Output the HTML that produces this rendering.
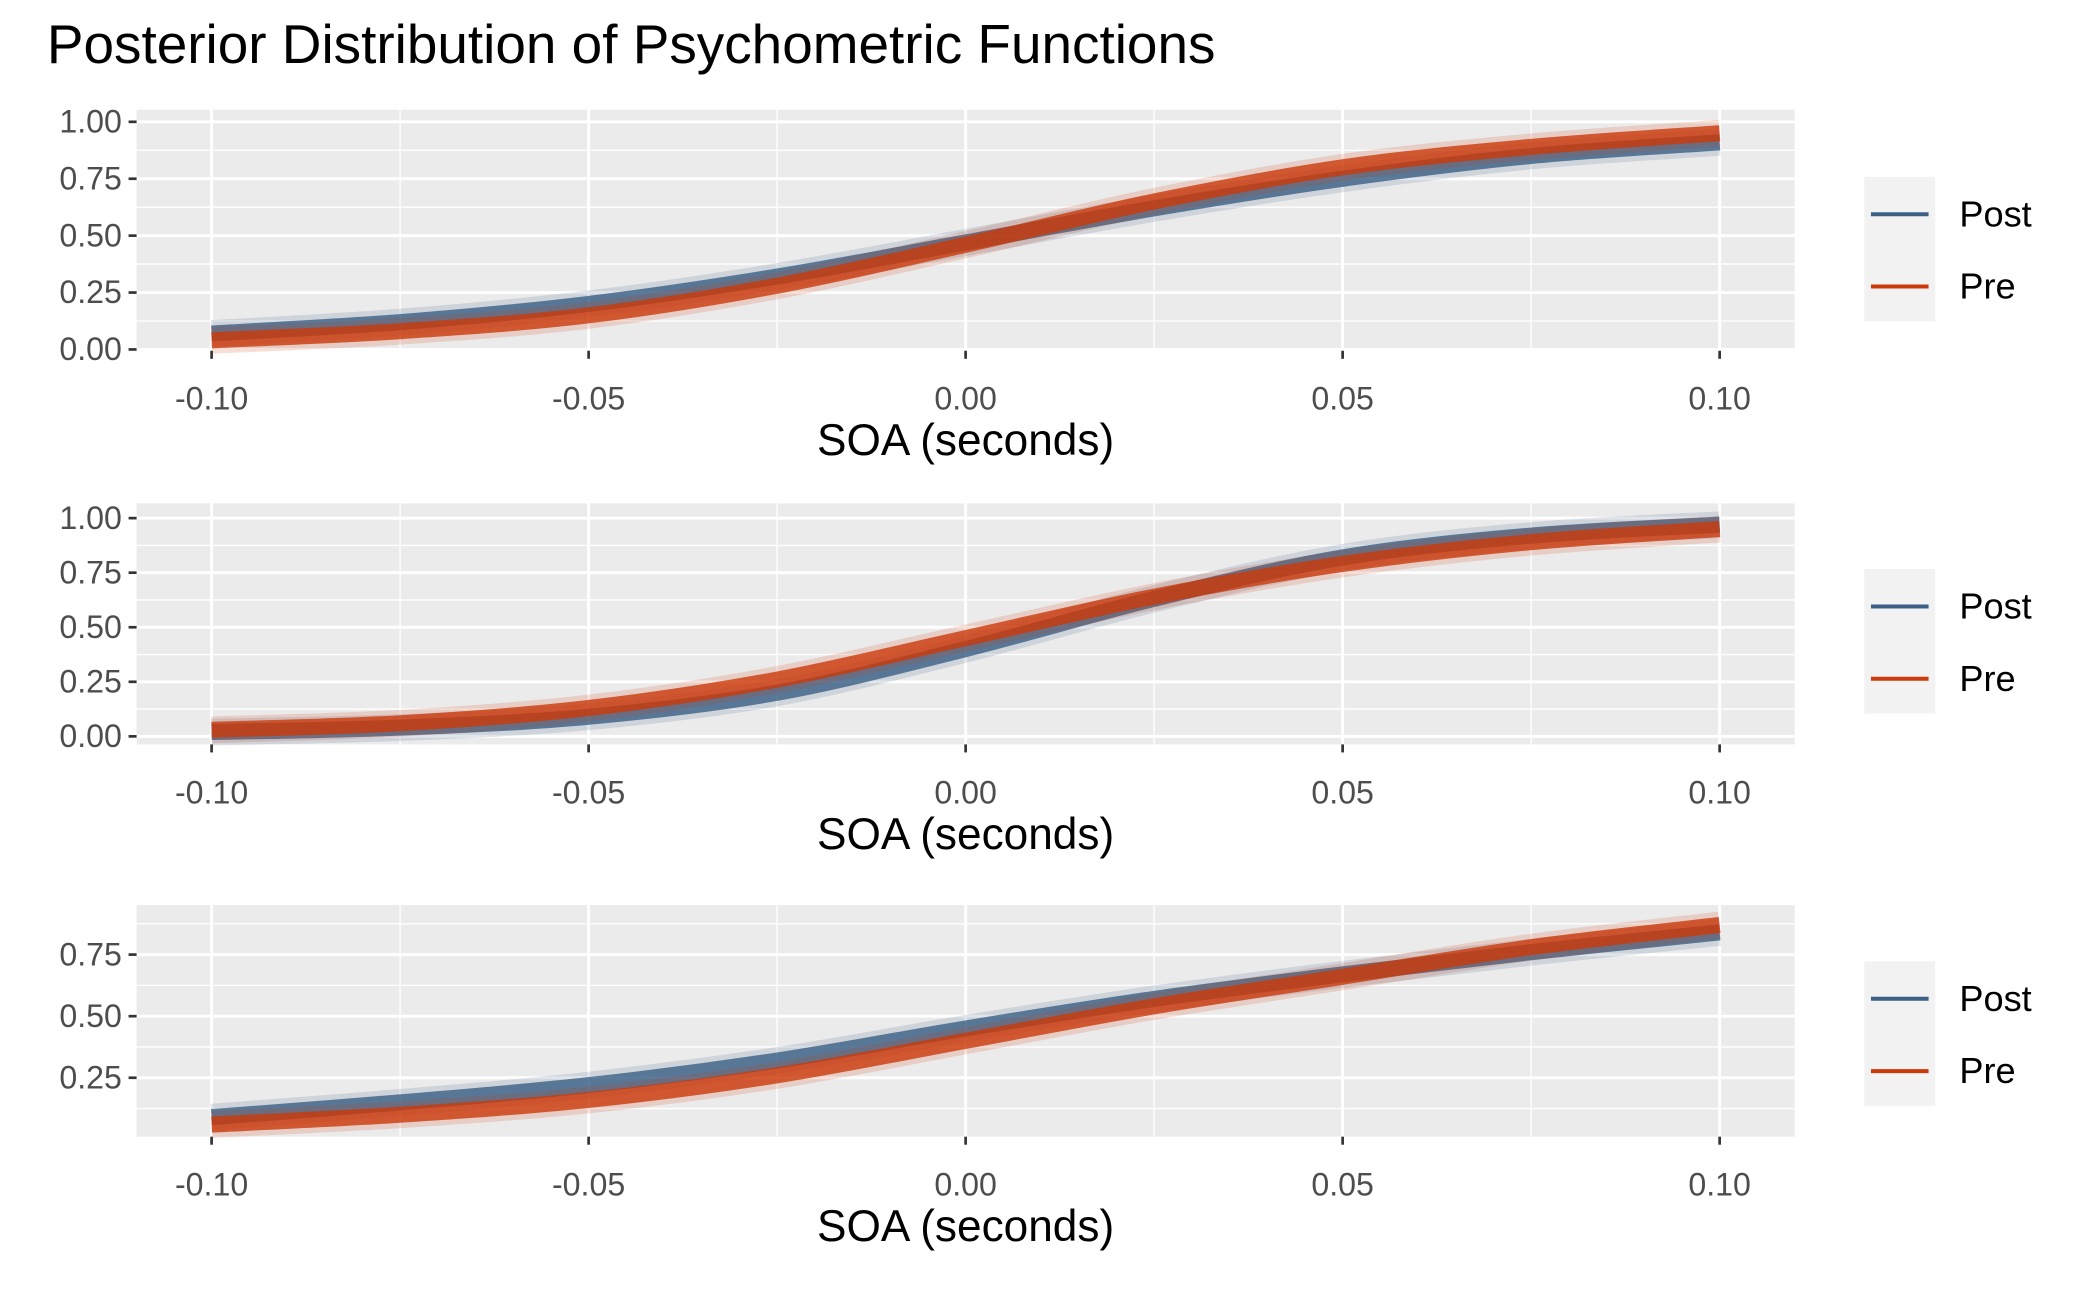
<!DOCTYPE html>
<html><head><meta charset="utf-8"><style>
html,body{margin:0;padding:0;background:#fff;}
svg{display:block;font-family:"Liberation Sans",Arial,sans-serif;}
</style></head><body>
<svg id="chart" width="2100" height="1296" viewBox="0 0 1568 968" preserveAspectRatio="none" xmlns="http://www.w3.org/2000/svg">
<text x="35" y="47" font-size="41" fill="#000">Posterior Distribution of Psychometric Functions</text>
<g id="panels"></g>
</svg>
<script>
const xValues = [-0.1,-0.075,-0.05,-0.025,0,0.025,0.05,0.075,0.1];
const xTicks = [-0.1,-0.05,0,0.05,0.1];
const xTickLabels = ["-0.10","-0.05","0.00","0.05","0.10"];
const post1 = [0.07,0.12,0.20,0.32,0.47,0.62,0.75,0.85,0.91];
const pre1  = [0.04,0.08,0.15,0.28,0.46,0.65,0.80,0.89,0.95];
const post2 = [0.02,0.04,0.09,0.20,0.40,0.63,0.82,0.92,0.97];
const pre2  = [0.03,0.06,0.13,0.26,0.45,0.64,0.79,0.89,0.95];
const post3 = [0.09,0.15,0.22,0.32,0.45,0.57,0.67,0.76,0.84];
const pre3  = [0.06,0.10,0.16,0.26,0.40,0.54,0.66,0.78,0.87];
const yTicks12 = [0,0.25,0.5,0.75,1];
const yTickLabels12 = ["0.00","0.25","0.50","0.75","1.00"];
const yTicks3 = [0.25,0.5,0.75];
const yTickLabels3 = ["0.25","0.50","0.75"];
const seriesNames = ["Post","Pre"];
const seriesColors = ["#3b5f85","#cc3a0a"];

const NS="http://www.w3.org/2000/svg";
const root=document.getElementById('panels');
function mk(tag,attrs,parent){const e=document.createElementNS(NS,tag);for(const k in attrs)e.setAttribute(k,attrs[k]);(parent||root).appendChild(e);return e;}
const xScale=v=>158+(v+0.1)/0.2*(1284-158);
const L=102,R=1340;

function smoothPath(pts){
  let d=`M${pts[0][0]},${pts[0][1]}`;
  for(let i=0;i<pts.length-1;i++){
    const p0=pts[Math.max(i-1,0)],p1=pts[i],p2=pts[i+1],p3=pts[Math.min(i+2,pts.length-1)];
    const c1=[p1[0]+(p2[0]-p0[0])/6,p1[1]+(p2[1]-p0[1])/6];
    const c2=[p2[0]-(p3[0]-p1[0])/6,p2[1]-(p3[1]-p1[1])/6];
    d+=` C${c1[0]},${c1[1]} ${c2[0]},${c2[1]} ${p2[0]},${p2[1]}`;
  }
  return d;
}

const panels=[
 {top:82,bot:262,yScale:v=>261-v*170,ticks:yTicks12,labels:yTickLabels12,series:[post1,pre1],tickY:298,titleY:340,leg:132},
 {top:376,bot:556,yScale:v=>550-v*163,ticks:yTicks12,labels:yTickLabels12,series:[post2,pre2],tickY:592,titleY:634,leg:425},
 {top:676,bot:849,yScale:v=>759-(v-0.5)*184,ticks:yTicks3,labels:yTickLabels3,series:[post3,pre3],tickY:885,titleY:927,leg:718}
];

panels.forEach((p,pi)=>{
  const g=mk('g',{});
  
  
  const bg=mk('rect',{x:L,y:p.top,width:R-L,height:p.bot-p.top,fill:'#ebebeb'},g);
  
  
  for(let i=0;i<p.ticks.length-1;i++){
    const y=p.yScale((p.ticks[i]+p.ticks[i+1])/2);
    mk('line',{x1:L,x2:R,y1:y,y2:y,stroke:'#fff','stroke-width':1},g);
  }
  if(pi===2){ const y=p.yScale(0.125); mk('line',{x1:L,x2:R,y1:y,y2:y,stroke:'#fff','stroke-width':1},g);
              const y2=p.yScale(0.875); mk('line',{x1:L,x2:R,y1:y2,y2:y2,stroke:'#fff','stroke-width':1},g);}
  for(let i=0;i<xTicks.length-1;i++){
    const x=xScale((xTicks[i]+xTicks[i+1])/2);
    mk('line',{x1:x,x2:x,y1:p.top,y2:p.bot,stroke:'#fff','stroke-width':1},g);
  }
  p.ticks.forEach((t,i)=>{
    const y=p.yScale(t);
    mk('line',{x1:L,x2:R,y1:y,y2:y,stroke:'#fff','stroke-width':2.2},g);
    mk('line',{x1:L-6,x2:L,y1:y,y2:y,stroke:'#333','stroke-width':2},g);
    const tx=mk('text',{x:L-11,y:y+8,'font-size':24,fill:'#4d4d4d','text-anchor':'end'},g);
    tx.textContent=p.labels[i];
    
    
  });
  xTicks.forEach((t,i)=>{
    const x=xScale(t);
    mk('line',{x1:x,x2:x,y1:p.top,y2:p.bot,stroke:'#fff','stroke-width':2.2},g);
    mk('line',{x1:x,x2:x,y1:p.bot,y2:p.bot+6,stroke:'#333','stroke-width':2},g);
    const tx=mk('text',{x:x,y:p.tickY+8,'font-size':24,fill:'#4d4d4d','text-anchor':'middle'},g);
    tx.textContent=xTickLabels[i];
    
    
  });
  const at=mk('text',{x:721,y:p.titleY,'font-size':33,fill:'#000','text-anchor':'middle'},g);
  at.textContent='SOA (seconds)';
  
  
  p.series.forEach((vals,si)=>{
    const pts=xValues.map((x,i)=>[xScale(x),p.yScale(vals[i])]);
    const d=smoothPath(pts);
    const halo=mk('path',{d:d,fill:'none',stroke:seriesColors[si],'stroke-width':20,'stroke-opacity':0.16,'stroke-linecap':'butt'},g);
    
    
    const core=mk('path',{d:d,fill:'none',stroke:seriesColors[si],'stroke-width':12,'stroke-opacity':0.8,'stroke-linecap':'butt'},g);
    
    
  });
  const lg=mk('g',{},g);
  
  
  mk('rect',{x:1392,y:p.leg,width:53,height:108,fill:'#f2f2f2'},lg);
  seriesNames.forEach((n,si)=>{
    const y=p.leg+28+si*54;
    const k=mk('line',{x1:1397,x2:1440,y1:y,y2:y,stroke:seriesColors[si],'stroke-width':3},lg);
    
    
    const t=mk('text',{x:1463,y:y+9,'font-size':27,fill:'#000'},lg);
    t.textContent=n;
    
    
  });
});
</script>
</body></html>
